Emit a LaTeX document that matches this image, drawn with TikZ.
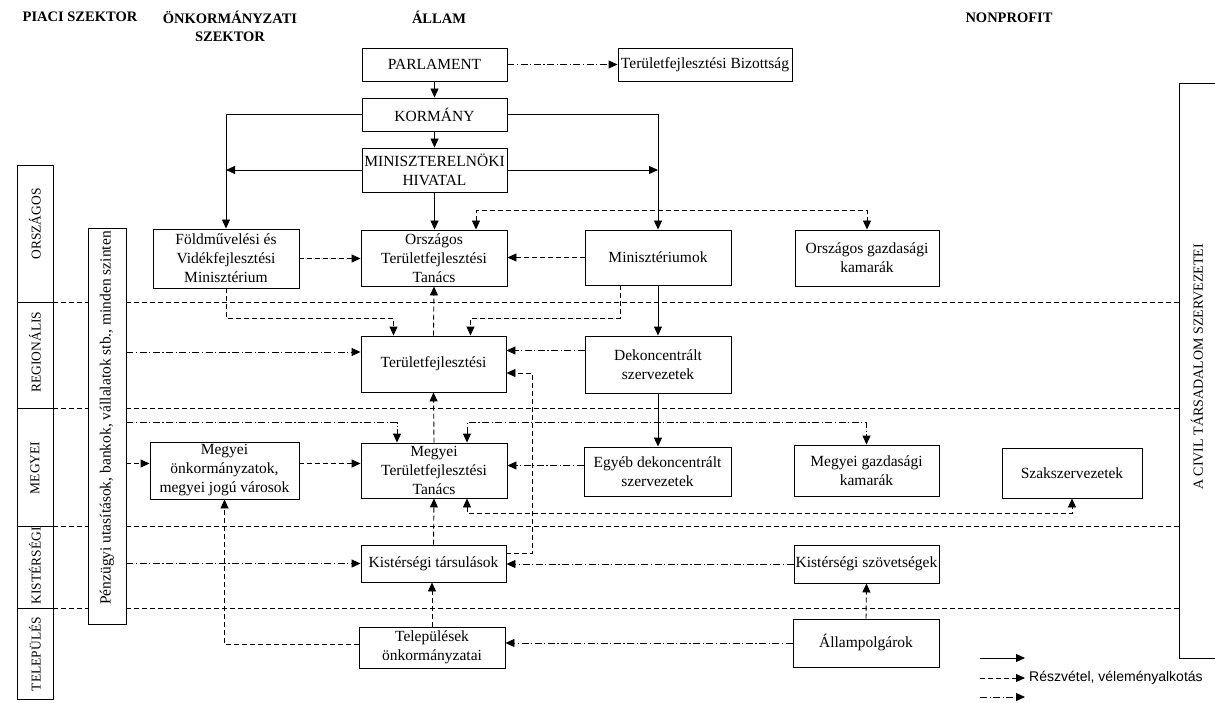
\documentclass[tikz,border=0pt]{standalone}
\usepackage{fontspec}
\setmainfont{Liberation Serif}
\newfontfamily\legendfam{Liberation Sans}
\usetikzlibrary{arrows.meta}
\newcommand\bxfont{\fontsize{15.5}{19}\selectfont}
\newcommand\hdfont{\fontsize{14.5}{18}\selectfont\bfseries}
\newcommand\lvfont{\fontsize{13.5}{15}\selectfont}
\newcommand\cvfont{\fontsize{14}{16}\selectfont}
\newcommand\lgfont{\legendfam\fontsize{14}{16}\selectfont}
\begin{document}
\begin{tikzpicture}[x=1pt,y=-1pt,
  >={Triangle[length=9pt,width=8pt]},
  box/.style={draw, line width=0.9pt, fill=white, inner sep=1pt, align=center, font=\bxfont},
  hdr/.style={font=\hdfont, align=center, inner sep=0pt},
  lvl/.style={font=\lvfont, rotate=90, inner sep=0pt},
  sol/.style={line width=0.9pt},
  dsh/.style={line width=0.9pt, dash pattern=on 5pt off 3pt},
  dd/.style={line width=0.9pt, dash pattern=on 7pt off 2.5pt on 1.2pt off 2.5pt},
  lvline/.style={line width=0.8pt, dash pattern=on 5pt off 3pt}]
\useasboundingbox (0,0) rectangle (1215,703);
\fill[white] (0,0) rectangle (1215,703);

% headers
\node[hdr] (H1) at (80,17) {PIACI SZEKTOR};
\node[hdr] (H2) at (230,26) {ÖNKORMÁNYZATI\\SZEKTOR};
\node[hdr] (H3) at (439,17) {ÁLLAM};
\node[hdr] (H4) at (1009,18) {NONPROFIT};

% level column
\node[box, minimum width=36pt, minimum height=137pt] (LORSZ) at (35,233.5) {};
\node[box, minimum width=36pt, minimum height=106pt] (LREG) at (35,355) {};
\node[box, minimum width=36pt, minimum height=118pt] (LMEGY) at (35,467) {};
\node[box, minimum width=36pt, minimum height=82pt] (LKIST) at (35,567) {};
\node[box, minimum width=36pt, minimum height=91pt] (LTEL) at (35,653.5) {};
\node[lvl] (TORSZ) at (35,224) {ORSZÁGOS};
\node[lvl] (TREG) at (35,352) {REGIONÁLIS};
\node[lvl] (TMEGY) at (35,468) {MEGYEI};
\node[lvl] (TKIST) at (35,566) {KISTÉRSÉGI};
\node[lvl] (TTEL) at (35,654) {TELEPÜLÉS};

% financial column
\node[box, minimum width=38pt, minimum height=396pt] (PENZ) at (107,426) {};
\node[rotate=90, font=\bxfont, inner sep=0pt] (PENZT) at (107,418) {Pénzügyi utasítások, bankok, vállalatok stb., minden szinten};

% civil column
\node[minimum width=35pt, minimum height=574pt, inner sep=0pt] (CIVIL) at (1197.5,371) {};
\draw[line width=0.9pt] (CIVIL.north east) -- (CIVIL.north west) -- (CIVIL.south west) -- (CIVIL.south east);
\node[rotate=90, font=\cvfont, inner sep=0pt] (CIVILT) at (1197,367) {A CIVIL TÁRSADALOM SZERVEZETEI};

% level separator lines
\foreach \L in {LORSZ,LREG,LMEGY,LKIST}{
  \draw[lvline] (\L.south east) -- (\L.south east -| PENZ.west);
  \draw[lvline] (\L.south east -| PENZ.east) -- (\L.south east -| CIVIL.west);
}

% boxes
\node[box, minimum width=145pt, minimum height=33pt] (PARL) at (434.5,64.5) {PARLAMENT};
\node[box, minimum width=174pt, minimum height=33pt] (BIZ) at (705,64.5) {Területfejlesztési Bizottság};
\node[box, minimum width=145pt, minimum height=33pt] (KORM) at (434.5,114.5) {KORMÁNY};
\node[box, minimum width=145pt, minimum height=44pt] (MEH) at (434.5,170) {MINISZTERELNÖKI\\HIVATAL};
\node[box, minimum width=146pt, minimum height=59pt] (FVM) at (226,258.5) {Földművelési és\\Vidékfejlesztési\\Minisztérium};
\node[box, minimum width=146pt, minimum height=56pt] (OTT) at (434,258) {Országos\\Területfejlesztési\\Tanács};
\node[box, minimum width=146pt, minimum height=55pt] (MIN) at (658,257.5) {Minisztériumok};
\node[box, minimum width=144pt, minimum height=56pt] (OGK) at (867,258) {Országos gazdasági\\kamarák};
\node[box, minimum width=145pt, minimum height=56pt] (RTF) at (433.5,364) {Területfejlesztési};
\node[box, minimum width=146pt, minimum height=57pt] (DEK) at (658,364.5) {Dekoncentrált\\szervezetek};
\node[box, minimum width=149pt, minimum height=57pt] (MONK) at (224.5,470.5) {Megyei\\önkormányzatok,\\megyei jogú városok};
\node[box, minimum width=146pt, minimum height=55pt] (MTT) at (434,470.5) {Megyei\\Területfejlesztési\\Tanács};
\node[box, minimum width=147pt, minimum height=49pt] (EGY) at (657.5,471.5) {Egyéb dekoncentrált\\szervezetek};
\node[box, minimum width=145pt, minimum height=51pt] (MGK) at (866.5,470.5) {Megyei gazdasági\\kamarák};
\node[box, minimum width=140pt, minimum height=50pt] (SZAK) at (1072,473) {Szakszervezetek};
\node[box, minimum width=145pt, minimum height=37pt] (KT) at (433.5,563.5) {Kistérségi társulások};
\node[box, minimum width=145pt, minimum height=38pt] (KSZ) at (866.5,564) {Kistérségi szövetségek};
\node[box, minimum width=146pt, minimum height=41pt] (TEL) at (432,647.5) {Települések\\önkormányzatai};
\node[box, minimum width=146pt, minimum height=48pt] (AP) at (866,643) {Állampolgárok};

% solid connectors
\draw[sol,->] (PARL.south) -- (KORM.north);
\draw[sol,->] (KORM.south) -- (MEH.north);
\draw[sol,->] (MEH.south) -- (MEH.south |- OTT.north);
\draw[sol,->] (KORM.west) -| (FVM.north);
\draw[sol,->] (MEH.west) -- (MEH.west -| FVM.north);
\draw[sol,->] (KORM.east) -| (MIN.north);
\draw[sol,->] (MEH.east) -- (MEH.east -| MIN.north);
\draw[sol,->] (MIN.south) -- (DEK.north);
\draw[sol,->] (DEK.south) -- (DEK.south |- EGY.north);

% participation connectors
\draw[dd,->] (PARL.east) -- (BIZ.west);
\draw[dsh,->] (FVM.east) -- (FVM.east -| OTT.west);
\draw[dsh,->] (MIN.west) -- (MIN.west -| OTT.east);
\draw[dsh,<->] ([xshift=42pt]OTT.north) -- ++(0,-19) -| (OGK.north);
\draw[dsh,->] (FVM.south) -- ++(0,30) -| ([xshift=-40pt]RTF.north);
\draw[dsh,->] (RTF.north) -- (OTT.south);
\draw[dsh,->] ([xshift=-38pt]MIN.south) -- ++(0,33) -| ([xshift=37pt]RTF.north);
\coordinate (r1) at ([yshift=12pt]RTF.west);
\draw[dd,->] (PENZ.east |- r1) -- (r1);
\coordinate (d1) at ([yshift=14pt]DEK.west);
\draw[dd,->] (d1) -- (d1 -| RTF.east);
\coordinate (k1) at ([yshift=10pt]KT.east);
\draw[dsh,->] (k1) -- ++(26,0) |- ([yshift=-9pt]RTF.east);
\draw[dsh,->] (MTT.north) -- (RTF.south);
\coordinate (m1) at ([xshift=-37pt,yshift=20pt]MTT.north);
\draw[dd,->] (PENZ.east |- m1) -| ([xshift=-37pt]MTT.north);
\draw[dd,<->] ([xshift=33pt]MTT.north) -- ++(0,-20) -| (MGK.north);
\coordinate (o1) at ([yshift=7pt]MONK.east);
\draw[dsh,->] (o1) -- (o1 -| MTT.west);
\coordinate (o2) at ([yshift=7pt]MONK.west);
\draw[dsh,->] (PENZ.east |- o2) -- (o2);
\coordinate (e1) at ([yshift=6pt]EGY.west);
\draw[dd,->] (e1) -- (e1 -| MTT.east);
\draw[dsh,<->] ([xshift=33pt]MTT.south) -- ++(0,15) -| (SZAK.south);
\draw[dsh,->] (KT.north) -- (MTT.south);
\draw[dd,->] (PENZ.east |- KT.west) -- (KT.west);
\draw[dd,->] (KSZ.west) -- (KSZ.west -| KT.east);
\draw[dsh,->] (TEL.north) -- (TEL.north |- KT.south);
\draw[dsh,->] ([yshift=3pt]TEL.west) -| (MONK.south);
\draw[dd,->] (AP.west) -- (AP.west -| TEL.east);
\draw[dsh,->] (AP.north) -- (KSZ.south);

% legend
\coordinate (La1) at (980,658); \coordinate (Lb1) at (1025,658);
\coordinate (La2) at (980,678); \coordinate (Lb2) at (1025,678);
\coordinate (La3) at (980,697); \coordinate (Lb3) at (1025,697);
\draw[sol,->] (La1) -- (Lb1);
\draw[dsh,->] (La2) -- (Lb2);
\draw[dd,->] (La3) -- (Lb3);
\node[anchor=west, font=\lgfont, inner sep=0pt] (LT) at (1029,678) {Részvétel, véleményalkotás};
\end{tikzpicture}
\end{document}
